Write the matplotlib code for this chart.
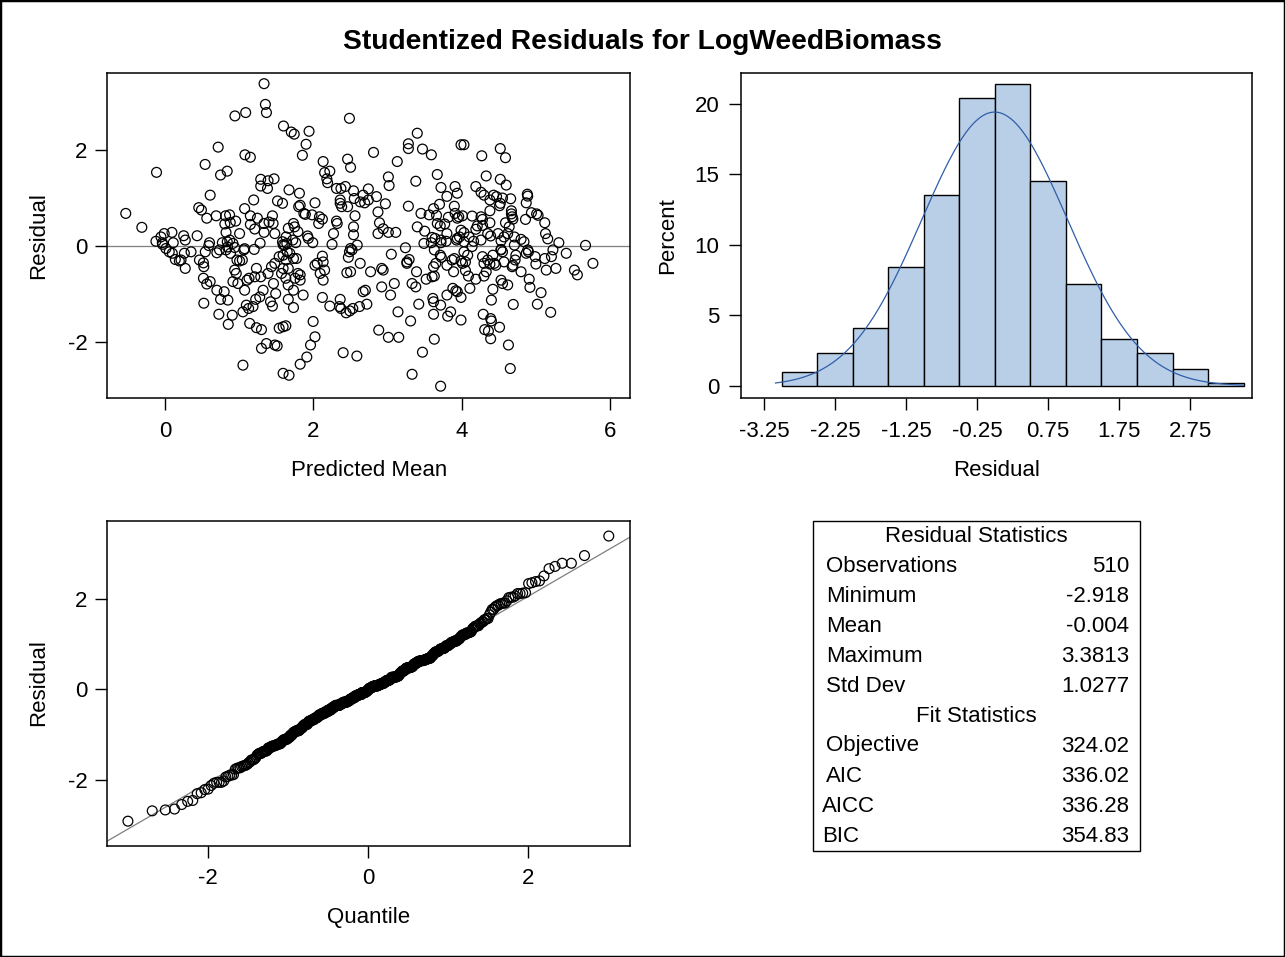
import matplotlib
matplotlib.use("Agg")
import matplotlib.pyplot as plt
from matplotlib.patches import Rectangle
from statistics import NormalDist
import numpy as np

plt.rcParams['font.family'] = ['Liberation Sans', 'DejaVu Sans']
plt.rcParams['axes.unicode_minus'] = False

# ---------------- data ----------------
# Predicted mean / studentized residual pairs, grouped by region of the scatter
pred_upper_left = [
    1.333, 1.351, 1.365, 0.94, 1.085, 1.595, 0.714, 1.075, 1.148, 0.538,
    -0.118, 0.746, 0.836, 1.288, 1.387, 1.468, 1.288, 1.379, 0.606, 1.193,
    1.514, 1.582, 0.452, 0.488, 1.071, -0.533, -0.316, 0.56, 0.687, 0.814,
    0.868, 0.804, 0.877, 0.95, 1.003, 1.148, 1.243, 1.333, 1.446, 1.455,
    1.40, 1.148, 1.207, 1.333, 1.478]
resid_upper_left = [
    3.3813, 2.95, 2.78, 2.71, 2.78, 2.50, 2.06, 1.90, 1.85, 1.70,
    1.535, 1.48, 1.56, 1.39, 1.36, 1.40, 1.25, 1.20, 1.06, 0.96,
    0.94, 0.89, 0.80, 0.75, 0.78, 0.68, 0.39, 0.58, 0.63, 0.63,
    0.65, 0.46, 0.49, 0.52, 0.26, 0.63, 0.58, 0.47, 0.63, 0.47,
    0.50, 0.45, 0.355, 0.285, 0.26]

pred_near_zero_left = [
    -0.126, -0.058, -0.014, 0.09, 0.108, -0.036, 0.009, 0.054, 0.136, 0.19,
    0.27, 0.213, 0.258, 0.348, 0.248, 0.27, 0.43, -0.04,
    0.461, 0.515, 0.52, 0.515, 0.56, 0.606, 0.597, 0.587, 0.696, 0.732,
    0.836, 0.913, 0.936, 1.071, 0.967, 1.003, 1.04, 0.696, 0.746, 0.845,
    0.723, 0.85, 0.904, 0.52,
    0.54, 0.82, 0.84, 0.88, 1.06, 1.20, 1.46, 1.49, 0.795, 0.82,
    1.59, 1.28, 0.87, 0.77, 0.095]
resid_near_zero_left = [
    0.10, 0.19, 0.26, 0.285, 0.07, 0.035, -0.05, -0.12, -0.28, -0.31,
    -0.465, -0.29, -0.15, -0.12, 0.215, 0.125, 0.215, 0.07,
    -0.29, -0.35, -0.43, -0.67, -0.79, -0.74, 0.07, 0.01, -0.14, -0.08,
    0.09, 0.055, -0.03, -0.055, -0.29, -0.31, -0.29, -0.92, -1.11, -1.125,
    -1.42, -1.63, -1.44, -1.19,
    -0.12, -0.08, -0.02, -0.15, -0.08, -0.07, -0.78, -0.99, -0.95, 0.285,
    0.03, 0.06, 0.125, 0.07, -0.15]

pred_lower_left = [
    0.936, 0.958, 0.913, 0.98, 1.071, 1.103, 1.13, 1.23, 1.207, 1.288,
    1.32, 1.275, 1.22, 1.094, 1.125, 1.184, 1.048, 1.139, 1.23, 1.298,
    1.298, 1.365, 1.478, 1.51, 1.048, 1.59, 1.627, 1.537, 1.42, 1.446,
    1.387, 1.433, 1.478, 1.59, 1.569, 1.627, 1.658, 1.59, 1.537, 1.582,
    1.59, 1.67]
resid_lower_left = [
    -0.50, -0.57, -0.74, -0.78, -0.92, -0.71, -0.67, -0.465, -0.64, -0.64,
    -0.92, -1.06, -1.11, -1.23, -1.30, -1.26, -1.37, -1.61, -1.70, -1.74,
    -2.13, -2.03, -2.06, -2.08, -2.48, -1.68, -1.66, -1.71, -1.16, -1.25,
    -0.57, -0.43, -0.36, -0.465, -0.57, -0.67, -0.81, -0.19, -0.22, 0.09,
    -2.65, -2.69]

pred_upper_mid = [
    2.485, 1.70, 1.74, 1.94, 1.90, 1.85, 2.13, 2.15, 2.22, 2.18,
    2.19, 2.46, 2.50, 2.81, 3.13, 3.40, 3.28, 3.28, 3.47, 3.59,
    3.01, 3.02, 3.38, 3.67, 3.72, 3.91, 3.80, 3.94, 1.67, 1.81,
    1.80, 1.82, 1.87, 1.89, 1.98, 2.08, 2.12, 2.07, 2.02, 2.31,
    2.37, 2.43, 2.54, 2.74, 2.85, 2.67, 2.63, 2.74, 2.69, 2.55,
    2.36, 2.38, 2.46, 2.36, 2.56, 2.31, 2.32, 2.54, 2.54, 2.27,
    2.97, 2.87, 2.89, 2.94, 3.01, 3.11, 2.87, 3.28, 3.45, 3.56,
    3.62, 3.70, 3.66, 3.67, 3.71, 3.77, 3.82, 3.90, 3.91, 3.96,
    3.80, 3.72, 3.60, 3.49, 3.40, 3.50, 3.64, 3.72, 3.79, 3.93,
    3.97, 3.59, 1.73, 1.745, 1.66, 1.79, 1.63, 1.72, 1.64, 1.76,
    1.92, 1.93, 1.99, 1.61, 2.25, 2.59, 2.50, 3.24]
resid_upper_mid = [
    2.66, 2.375, 2.33, 2.39, 2.12, 1.89, 1.76, 1.53, 1.56, 1.40,
    1.32, 1.81, 1.64, 1.95, 1.76, 2.35, 2.13, 2.03, 2.02, 1.90,
    1.44, 1.26, 1.35, 1.49, 1.22, 1.24, 1.035, 1.10, 1.17, 1.10,
    0.82, 0.85, 0.68, 0.66, 0.65, 0.61, 0.56, 0.47, 0.90, 1.20,
    1.20, 1.24, 1.15, 1.19, 1.03, 1.06, 0.92, 0.96, 0.90, 0.99,
    0.96, 0.82, 0.82, 0.89, 0.63, 0.52, 0.47, 0.40, 0.235, 0.26,
    0.88, 0.71, 0.485, 0.36, 0.285, 0.285, 0.26, 0.83, 0.68, 0.65,
    0.78, 0.87, 0.64, 0.47, 0.42, 0.46, 0.60, 0.83, 0.68, 0.61,
    0.26, 0.125, 0.18, 0.055, 0.40, 0.31, 0.16, 0.07, 0.10, 0.125,
    0.19, 0.07, 0.47, 0.40, 0.37, 0.30, 0.19, 0.125, 0.055, 0.07,
    0.21, 0.16, 0.07, 0.02, 0.035, 0.02, -0.05, -0.035]

pred_upper_right = [
    3.99, 4.03, 4.52, 4.27, 4.59, 4.33, 4.52, 4.60, 4.19, 4.26,
    4.30, 4.43, 4.47, 4.55, 4.66, 4.38, 4.52, 4.51, 4.885, 4.89,
    4.87, 4.01, 3.94, 4.14, 4.26, 4.28, 4.38, 4.67, 4.67, 4.68,
    4.69, 4.59, 4.64, 4.38, 4.21, 4.19, 4.28, 4.86, 4.94, 5.01,
    5.03, 5.12, 5.13, 5.16, 5.31, 5.67, 3.99, 4.03, 3.94, 4.03,
    4.10, 4.16, 4.26, 4.35, 4.39, 4.49, 4.57, 4.62, 4.71, 4.80,
    4.84, 4.53, 4.71]
resid_upper_right = [
    2.11, 2.11, 2.03, 1.88, 1.84, 1.46, 1.39, 1.27, 1.24, 1.12,
    1.06, 1.06, 1.03, 1.00, 0.985, 0.96, 0.89, 0.84, 1.08, 1.04,
    0.90, 0.63, 0.58, 0.625, 0.61, 0.555, 0.735, 0.735, 0.67, 0.61,
    0.56, 0.485, 0.40, 0.485, 0.42, 0.35, 0.43, 0.555, 0.695, 0.67,
    0.64, 0.485, 0.26, 0.15, 0.07, 0.015, 0.33, 0.28, 0.16, 0.09,
    0.19, 0.10, 0.125, 0.26, 0.21, 0.26, 0.19, 0.26, 0.19, 0.14,
    0.09, 0.11, 0.02]

pred_lower_mid = [
    1.645, 1.63, 1.68, 1.73, 1.77, 1.79, 1.82, 1.66, 1.75, 1.82,
    1.73, 1.86, 1.66, 1.73, 1.995, 2.02, 1.96, 1.91, 1.82, 2.12,
    2.02, 2.05, 2.13, 2.09, 2.15, 2.13, 2.45, 2.50, 2.485, 2.52,
    2.47, 2.63, 2.77, 2.92, 2.94, 3.05, 3.09, 2.92, 3.04, 2.12,
    2.22, 2.36, 2.35, 2.37, 2.44, 2.49, 2.53, 2.62, 2.72, 2.67,
    2.70, 3.14, 3.31, 2.88, 3.01, 3.15, 2.40, 2.585, 3.47, 3.33,
    3.715, 3.63, 3.42, 3.62, 3.61, 3.715, 3.85, 3.81, 3.99, 3.80,
    3.88, 3.92, 3.62, 3.26, 3.29, 3.26, 3.39, 3.33, 3.38, 3.52,
    3.60, 3.63, 3.62, 3.65, 3.71, 3.725, 3.80, 3.89, 3.87, 3.63]
resid_lower_mid = [
    -0.12, -0.29, -0.15, -0.26, -0.26, -0.57, -0.60, -0.465, -0.67, -0.71,
    -0.92, -1.02, -1.11, -1.28, -1.57, -1.89, -2.06, -2.31, -2.46, -0.21,
    -0.40, -0.36, -0.33, -0.57, -0.50, -0.71, -0.555, -0.535, -0.12, -0.08,
    -0.235, -0.36, -0.535, -0.465, -0.50, -0.17, -0.78, -0.85, -1.02, -1.07,
    -1.25, -1.11, -1.26, -1.30, -1.39, -1.35, -1.30, -1.26, -1.21, -0.95,
    -0.92, -1.37, -1.56, -1.75, -1.90, -1.90, -2.22, -2.29, -2.21, -2.67,
    -2.918, -1.94, -1.21, -1.16, -1.09, -1.23, -1.37, -1.46, -1.54, -1.02,
    -0.88, -0.93, -1.42, -0.33, -0.28, -0.36, -0.535, -0.78, -0.85, -0.69,
    -0.64, -0.625, -0.43, -0.36, -0.19, -0.235, -0.40, -0.535, -0.29, -0.08]

pred_lower_right = [
    4.03, 4.08, 4.01, 3.99, 4.05, 3.90, 4.05, 4.09, 4.19, 4.30,
    4.33, 4.30, 4.28, 4.35, 4.42, 4.38, 4.44, 4.46, 4.57, 4.53,
    4.55, 4.69, 4.68, 4.73, 4.72, 4.80, 4.90, 4.87, 4.99, 5.00,
    5.12, 5.14, 5.21, 5.23, 5.27, 5.41, 5.52, 5.56, 5.77, 4.91,
    4.92, 4.53, 4.55, 4.62, 4.42, 4.11, 3.99, 3.94, 4.40, 4.695,
    5.07, 5.02, 5.20, 4.29, 4.39, 4.40, 4.31, 4.36, 4.51, 4.39,
    4.63, 4.655, 4.14, 4.53, 4.89]
resid_lower_right = [
    -0.12, -0.19, -0.36, -0.31, -0.33, -0.26, -0.51, -0.625, -0.69, -0.625,
    -0.535, -0.36, -0.22, -0.29, -0.19, -0.375, -0.36, -0.40, -0.33, -0.08,
    -0.12, -0.40, -0.43, -0.19, -0.29, -0.535, -0.12, -0.15, -0.22, -0.375,
    -0.26, -0.50, -0.22, -0.08, -0.465, -0.15, -0.50, -0.60, -0.36, -0.69,
    -0.86, -0.71, -0.78, -0.81, -0.90, -0.88, -1.07, -0.95, -1.125, -1.215,
    -0.97, -1.21, -1.38, -1.42, -1.51, -1.56, -1.74, -1.77, -1.69, -1.93,
    -2.06, -2.55, -0.01, -0.07, -0.08]

# Histogram (percent per bin of width 0.5)
hist_midpoints = [-2.75, -2.25, -1.75, -1.25, -0.75, -0.25, 0.25,
                  0.75, 1.25, 1.75, 2.25, 2.75, 3.25]
hist_percent = [0.98, 2.35, 4.12, 8.43, 13.53, 20.39, 21.37,
                14.51, 7.25, 3.33, 2.35, 1.18, 0.20]
hist_xticks = [-3.25, -2.25, -1.25, -0.25, 0.75, 1.75, 2.75]
hist_yticks = [0, 5, 10, 15, 20]

resid_mean = -0.004
resid_std = 1.0277

resid_stat_labels = ["Observations", "Minimum", "Mean", "Maximum", "Std Dev"]
resid_stat_values = ["510", "-2.918", "-0.004", "3.3813", "1.0277"]
fit_stat_labels = ["Objective", "AIC", "AICC", "BIC"]
fit_stat_values = ["324.02", "336.02", "336.28", "354.83"]

title = "Studentized Residuals for LogWeedBiomass"

# ---------------- assemble ----------------
pred = np.array(pred_upper_left + pred_near_zero_left + pred_lower_left + pred_upper_mid
                + pred_upper_right + pred_lower_mid + pred_lower_right)
resid = np.array(resid_upper_left + resid_near_zero_left + resid_lower_left + resid_upper_mid
                 + resid_upper_right + resid_lower_mid + resid_lower_right)

W, H = 1285, 957
fig = plt.figure(figsize=(W / 100, H / 100), dpi=100)
fig.patch.set_facecolor('white')

def fx(px):
    return px / W

def fy(py):
    return 1 - py / H

def axes_rect(l, t, r, b):
    return [fx(l), fy(b), (r - l) / W, (b - t) / H]

FS = 16
TICK_LEN = 8.4
MS = 50
MLW = 0.9

def style_axes(ax, xpad=8, ypad=5.5):
    for s in ax.spines.values():
        s.set_linewidth(1.1)
        s.set_color('black')
    ax.tick_params(direction='out', length=TICK_LEN, width=1.0, labelsize=FS,
                   colors='black')
    ax.tick_params(axis='x', pad=xpad)
    ax.tick_params(axis='y', pad=ypad)

# figure border
fig.add_artist(Rectangle((0, 0), 1, 1, transform=fig.transFigure, fill=False,
                         edgecolor='black', linewidth=2.5))

fig.text(0.5, fy(42), title, ha='center', va='center', fontsize=20.3,
         fontweight='bold')

# ---- scatter: residual vs predicted mean
ax1 = fig.add_axes(axes_rect(106.7, 72.7, 630, 398.3))
ax1.axhline(0, color='#7f7f7f', linewidth=0.9, zorder=1)
ax1.scatter(pred, resid, s=MS, facecolors='none', edgecolors='black',
            linewidths=MLW, zorder=2)
ax1.set_xlim(-0.79, 6.27)
ax1.set_ylim(-3.17, 3.61)
ax1.set_xticks([0, 2, 4, 6])
ax1.set_yticks([-2, 0, 2])
style_axes(ax1)
fig.text(fx(369), fy(471), "Predicted Mean", ha='center', va='center', fontsize=FS)
fig.text(fx(39), fy(236), "Residual", ha='center', va='center', fontsize=FS,
         rotation=90)

# ---- histogram
ax2 = fig.add_axes(axes_rect(740.7, 72.7, 1251.7, 398.3))
ax2.bar(hist_midpoints, hist_percent, width=0.5, color='#b9cfe7',
        edgecolor='black', linewidth=1.0, zorder=2)
xs = np.linspace(-3.09, 3.49, 300)
nd = NormalDist(resid_mean, resid_std)
ax2.plot(xs, [100 * 0.5 * nd.pdf(v) for v in xs], color='#2f5ea8',
         linewidth=0.9, zorder=3)
ax2.set_xlim(-3.58, 3.615)
ax2.set_ylim(-0.87, 22.2)
ax2.set_xticks(hist_xticks)
ax2.set_xticklabels([f"{v:.2f}" for v in hist_xticks])
ax2.set_yticks(hist_yticks)
style_axes(ax2, ypad=7)
fig.text(fx(997), fy(471), "Residual", ha='center', va='center', fontsize=FS)
fig.text(fx(668), fy(236), "Percent", ha='center', va='center', fontsize=FS,
         rotation=90)

# ---- Q-Q plot
ax3 = fig.add_axes(axes_rect(106.7, 520.7, 630, 845.7))
sorted_resid = np.sort(resid)
n = len(sorted_resid)
std_norm = NormalDist()
quantiles = [std_norm.inv_cdf((i + 1 - 0.375) / (n + 0.25)) for i in range(n)]
ax3.axline((0, resid_mean), slope=resid_std, color='#7f7f7f', linewidth=0.9,
           zorder=1)
ax3.scatter(quantiles, sorted_resid, s=MS, facecolors='none',
            edgecolors='black', linewidths=MLW, zorder=2)
ax3.set_xlim(-3.27, 3.27)
ax3.set_ylim(-3.46, 3.72)
ax3.set_xticks([-2, 0, 2])
ax3.set_yticks([-2, 0, 2])
style_axes(ax3)
fig.text(fx(369), fy(917), "Quantile", ha='center', va='center', fontsize=FS)
fig.text(fx(39), fy(683), "Residual", ha='center', va='center', fontsize=FS,
         rotation=90)

# ---- statistics table
fig.add_artist(Rectangle((fx(813), fy(851)), (1140 - 813) / W, (851 - 521) / H,
                         transform=fig.transFigure, fill=False,
                         edgecolor='black', linewidth=1.0))
row_y = 536
fig.text(fx(976), fy(row_y), "Residual Statistics", ha='center', va='center',
         fontsize=FS)
for lab, val in zip(resid_stat_labels, resid_stat_values):
    row_y += 30
    fig.text(fx(826), fy(row_y), lab, ha='left', va='center', fontsize=FS)
    fig.text(fx(1129), fy(row_y), val, ha='right', va='center', fontsize=FS)
row_y += 30
fig.text(fx(976), fy(row_y), "Fit Statistics", ha='center', va='center',
         fontsize=FS)
for lab, val in zip(fit_stat_labels, fit_stat_values):
    row_y += 30
    lx = 822 if lab in ("AICC", "BIC") else 826
    fig.text(fx(lx), fy(row_y), lab, ha='left', va='center', fontsize=FS)
    fig.text(fx(1129), fy(row_y), val, ha='right', va='center', fontsize=FS)

fig.savefig("out.png", dpi=100, facecolor='white')
